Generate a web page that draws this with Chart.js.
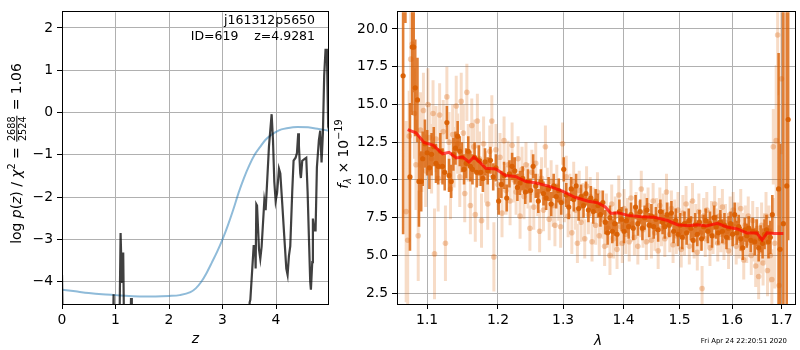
<!DOCTYPE html>
<html>
<head>
<meta charset="utf-8">
<script src="https://cdn.jsdelivr.net/npm/chart.js@4.4.1/dist/chart.umd.min.js"></script>
<style>
html,body{margin:0;padding:0;background:#fff}
#wrap{position:relative;width:800px;height:350px;overflow:hidden;background:#fff}
#pzChart{position:absolute;left:0;top:0}
#specChart{position:absolute;left:332px;top:0}
</style>
</head>
<body>
<div id="wrap">
<canvas id="pzChart" width="332" height="350"></canvas>
<canvas id="specChart" width="468" height="350"></canvas>
</div>
<script>

/* =====================================================
AXIS TICKS
===================================================== */

const zTicks=[0,1,2,3,4]
const logpTicks=[-4,-3,-2,-1,0,1,2]
const lamTicks=[1.1,1.2,1.3,1.4,1.5,1.6,1.7]
const fluxTicks=[2.5,5,7.5,10,12.5,15,17.5,20]


/* =====================================================
P(Z) CURVES
===================================================== */

// smooth prior-like curve
const zSmooth=[0,0.25,0.5,0.75,1,1.25,1.5,1.75,2,2.2,2.4,2.5,2.6,2.7,2.8,2.9,3,3.1,3.2,3.3,3.4,3.5,3.6,3.7,3.8,3.9,4,4.1,4.2,4.4,4.6,4.8,4.99]
const logpSmooth=[-4.19,-4.23,-4.27,-4.30,-4.32,-4.34,-4.35,-4.35,-4.34,-4.32,-4.25,-4.16,-4.01,-3.80,-3.55,-3.29,-3.0,-2.67,-2.3,-1.9,-1.55,-1.25,-1.0,-0.82,-0.65,-0.54,-0.46,-0.40,-0.37,-0.34,-0.35,-0.39,-0.43]

// chi2 based log p(z), low values fall off the bottom of the axes
const zFit=[0,0.02,0.95,0.964,0.975,1.07,1.095,1.119,1.144,1.163,1.27,1.29,1.305,3.49,3.507,3.52,3.582,3.607,3.619,3.632,3.645,3.682,3.706,3.731,3.781,3.806,3.831,3.868,3.918,3.943,3.968,3.993,4.02,4.055,4.08,4.117,4.154,4.192,4.216,4.241,4.266,4.303,4.328,4.366,4.391,4.415,4.428,4.453,4.465,4.49,4.53,4.565,4.59,4.614,4.639,4.652,4.677,4.689,4.714,4.739,4.764,4.801,4.826,4.851,4.876,4.9,4.925,4.95,4.975,4.99]
const logpFit=[-3.84,-5.5,-5.5,-4.3,-5.5,-5.5,-2.85,-4.03,-3.31,-5.5,-5.5,-4.39,-5.5,-5.5,-4.49,-4.43,-3.16,-3.16,-3.69,-2.17,-2.2,-3.24,-3.46,-3.17,-2.09,-2.31,-1.71,-0.8,-0.04,-0.65,-1.64,-2.09,-1.9,-1.33,-1.44,-2.17,-2.93,-3.69,-3.84,-3.39,-3.16,-1.87,-1.14,-1.07,-0.96,-0.49,-0.8,-1.44,-1.55,-1.14,-1.1,-1.07,-1.87,-2.93,-4.0,-4.19,-3.54,-2.51,-2.79,-2.79,-1.29,-0.65,-0.43,-1.18,-0.49,0.87,1.48,1.48,-0.34,-0.4]


/* =====================================================
SPECTRUM - COMBINED POINTS
===================================================== */

const lamBright=[
1.068,1.071,1.077,1.080,1.082,1.084,1.087,1.089,1.092,1.094,
1.097,1.100,1.103,1.106,1.109,1.112,1.115,1.118,1.121,1.124,
1.127,1.130,1.133,1.136,1.139,1.142,1.145,1.148,1.151,1.154,
1.157,1.160,1.163,1.166,1.169,1.172,1.175,1.178,1.181,1.185,
1.189,1.193,1.197,1.201,1.205,1.209,1.213,1.217,1.221,1.225,
1.229,1.233,1.237,1.241,1.245,1.249,1.253,1.257,1.261,1.265,
1.269,1.273,1.277,1.281,1.285,1.289,1.293,1.297,1.301,1.305,
1.309,1.313,1.317,1.321,1.325,1.329,1.333,1.337,1.341,1.345,
1.349,1.353,1.357,1.361,1.365,1.369,1.373,1.377,1.381,1.385,
1.389,1.393,1.397,1.401,1.405,1.409,1.413,1.417,1.421,1.425,
1.429,1.433,1.437,1.441,1.445,1.449,1.453,1.457,1.461,1.465,
1.469,1.473,1.477,1.481,1.485,1.489,1.493,1.497,1.501,1.505,
1.509,1.513,1.517,1.521,1.525,1.529,1.533,1.537,1.541,1.545,
1.549,1.553,1.557,1.561,1.565,1.569,1.573,1.577,1.581,1.585,
1.589,1.593,1.597,1.601,1.605,1.609,1.613,1.617,1.621,1.625,
1.629,1.633,1.637,1.641,1.645,1.649,1.653,1.657,1.661,1.665,
1.669,1.673,1.677,1.681,1.694,1.697,1.704,1.711,1.714]
const fluxBright=[
16.9,24.0,10.2,18.8,18.8,16.1,15.3,9.9,9.9,11.4,
12.4,11.8,10.8,11.7,12.2,11.1,10.9,11.9,10.9,10.5,
13.8,10.3,9.9,11.7,12.1,12.9,11.9,11.5,10.7,11.1,
11.9,10.9,10.7,11.5,10.5,11.3,10.5,10.1,11.2,10.6,
11.3,10.2,10.8,8.6,9.7,10.3,8.8,10.4,10.9,10.6,
9.5,9.8,10.1,9.2,9.9,9.3,10.9,9.6,8.6,9.9,
9.1,8.8,9.4,8.4,9.6,8.9,9.3,8.5,10.7,9.0,
8.2,9.4,8.7,9.6,8.1,8.9,8.3,9.1,8.0,8.8,
7.9,8.6,8.3,7.7,8.5,7.2,6.5,7.5,6.6,7.1,
6.4,7.9,7.4,6.6,7.3,6.9,7.7,6.8,8.2,7.1,
7.9,6.8,7.5,8.0,7.0,7.6,6.9,7.4,6.7,7.9,
7.2,6.9,7.7,7.0,7.8,6.6,7.3,6.4,7.0,6.2,
7.1,6.5,7.3,6.8,6.0,7.0,6.4,7.2,6.1,6.9,
7.3,6.6,7.1,6.3,7.5,6.9,6.5,7.2,6.6,7.0,
6.2,6.8,7.1,6.4,7.7,6.5,6.9,6.1,5.5,6.7,
6.3,6.8,6.0,6.6,5.9,6.5,5.5,6.1,5.8,6.4,
6.7,5.9,6.2,7.7,9.4,5.4,7.1,9.6,14.0]
const errBright=[
10.5,3.6,4.9,4.5,3.0,3.2,2.8,3.0,2.0,1.8,
1.6,1.5,1.4,1.4,1.3,1.3,1.2,1.2,1.2,1.2,
1.1,1.1,1.1,1.1,1.1,1.0,1.0,1.0,1.0,1.0,
1.0,1.0,1.0,1.0,1.0,1.0,0.9,0.9,0.9,0.9,
0.9,0.9,0.9,0.9,0.9,0.9,0.9,0.9,0.9,0.9,
0.9,0.8,0.8,0.8,0.8,0.8,0.8,0.8,0.8,0.8,
0.8,0.8,0.8,0.8,0.8,0.8,0.8,0.8,0.8,0.8,
0.8,0.8,0.8,0.8,0.8,0.8,0.8,0.8,0.8,0.8,
0.8,0.8,0.8,0.8,0.8,0.8,0.8,0.8,0.8,0.8,
0.8,0.8,0.8,0.8,0.8,0.8,0.8,0.8,0.8,0.8,
0.8,0.8,0.8,0.8,0.8,0.8,0.8,0.8,0.8,0.8,
0.8,0.8,0.8,0.8,0.8,0.8,0.8,0.8,0.8,0.8,
0.8,0.8,0.8,0.8,0.8,0.8,0.8,0.8,0.8,0.8,
0.8,0.8,0.8,0.8,0.8,0.8,0.8,0.8,0.8,0.8,
0.8,0.8,0.8,0.8,0.8,0.8,0.8,0.8,0.8,0.8,
0.8,0.8,0.8,0.9,0.9,0.9,0.9,0.9,1.0,1.0,
1.0,1.1,1.1,1.3,9.0,7.0,15.0,15.0,8.0]


/* =====================================================
SPECTRUM - SINGLE EXPOSURES
===================================================== */

const lamFaint=[
1.072,1.074,1.076,1.078,1.080,1.083,1.085,1.088,1.091,1.093,
1.095,1.098,1.101,1.103,1.106,1.108,1.110,1.112,1.115,1.117,
1.120,1.122,1.125,1.127,1.130,1.132,1.135,1.137,1.140,1.142,
1.145,1.147,1.150,1.152,1.155,1.157,1.160,1.162,1.165,1.167,
1.170,1.173,1.176,1.179,1.182,1.185,1.188,1.191,1.194,1.197,
1.200,1.203,1.206,1.209,1.212,1.215,1.218,1.221,1.224,1.227,
1.230,1.233,1.236,1.239,1.242,1.245,1.248,1.251,1.254,1.257,
1.260,1.263,1.266,1.269,1.272,1.275,1.278,1.281,1.284,1.287,
1.290,1.293,1.296,1.299,1.302,1.305,1.308,1.311,1.314,1.317,
1.320,1.323,1.326,1.329,1.332,1.335,1.338,1.341,1.344,1.347,
1.350,1.353,1.356,1.359,1.362,1.365,1.368,1.371,1.374,1.377,
1.380,1.383,1.386,1.389,1.392,1.395,1.398,1.401,1.404,1.407,
1.410,1.413,1.416,1.419,1.422,1.425,1.428,1.431,1.434,1.437,
1.440,1.443,1.446,1.449,1.452,1.455,1.458,1.461,1.464,1.467,
1.470,1.473,1.476,1.479,1.482,1.485,1.488,1.491,1.494,1.497,
1.500,1.503,1.506,1.509,1.512,1.515,1.518,1.521,1.524,1.527,
1.530,1.533,1.536,1.539,1.542,1.545,1.548,1.551,1.554,1.557,
1.560,1.563,1.566,1.569,1.572,1.575,1.578,1.581,1.584,1.587,
1.590,1.593,1.596,1.599,1.602,1.605,1.608,1.611,1.614,1.617,
1.620,1.623,1.626,1.629,1.632,1.635,1.638,1.641,1.644,1.647,
1.650,1.653,1.656,1.659,1.662,1.665,1.668,1.671,1.674,1.677,
1.680,1.683,1.686,1.689,1.692,1.695,1.700]
const fluxFaint=[
7.9,6.0,12.9,18.0,19.0,14.4,11.0,6.3,13.3,11.7,
14.6,10.6,15.0,12.8,11.4,14.4,5.1,12.7,10.1,14.3,
11.9,13.2,5.8,15.5,12.5,9.4,13.0,11.5,14.9,12.4,
10.2,15.2,13.1,9.1,15.8,11.8,8.3,13.6,12.2,7.7,
13.9,11.4,7.3,12.4,10.2,8.4,11.9,13.9,4.9,12.0,
9.7,11.5,7.8,12.6,9.3,11.0,8.6,12.3,10.0,9.2,
11.4,7.6,10.7,8.9,11.0,9.6,6.8,10.5,8.2,11.1,
9.0,6.6,10.1,8.0,12.2,9.4,7.4,9.9,8.3,7.0,
9.6,8.7,6.9,12.4,8.6,10.2,7.6,9.0,6.5,9.9,
8.0,5.8,9.3,7.2,8.5,6.1,9.6,7.7,8.9,5.9,
8.2,7.0,9.2,6.3,8.0,7.4,5.6,7.8,6.8,5.0,
8.4,6.1,7.6,5.4,9.0,6.9,5.8,8.1,6.4,7.5,
5.9,8.8,7.1,6.2,8.0,5.6,7.4,9.4,6.7,7.9,
5.9,8.3,7.0,6.0,8.6,6.5,7.6,5.3,8.3,6.8,
7.9,6.1,9.2,7.3,6.4,8.1,5.7,7.5,6.3,8.0,
6.6,5.4,7.8,6.2,8.4,6.9,5.6,7.4,8.6,6.0,
7.2,5.2,7.9,6.5,2.8,7.6,6.1,8.0,6.8,5.5,
7.4,6.3,8.4,6.9,5.8,7.6,6.4,8.2,5.9,7.2,
6.6,5.3,7.7,6.2,8.0,6.9,5.6,7.3,6.0,8.1,
6.5,4.7,7.0,5.8,7.6,6.2,5.0,7.3,6.0,4.3,
6.8,3.6,5.3,7.0,4.5,6.2,7.6,4.0,6.6,5.0,
3.4,12.2,5.8,12.6,19.6,3.0,16.7]
const errFaint=[
6.0,4.5,3.0,3.5,4.0,3.0,3.0,3.0,2.5,2.5,
2.5,2.4,2.4,2.3,2.3,2.2,3.0,2.2,2.2,2.1,
2.1,2.1,2.5,2.0,2.0,2.0,2.0,2.0,2.0,2.0,
2.0,1.9,1.9,1.9,1.9,1.9,1.9,1.8,1.8,1.8,
1.8,1.8,1.8,1.8,1.7,1.7,1.7,1.7,2.3,1.7,
1.7,1.6,1.6,1.6,1.6,1.6,1.6,1.5,1.5,1.5,
1.5,1.5,1.5,1.5,1.5,1.5,1.5,1.5,1.5,1.4,
1.4,1.4,1.4,1.4,1.4,1.4,1.4,1.4,1.4,1.4,
1.4,1.4,1.4,1.4,1.4,1.4,1.4,1.4,1.4,1.3,
1.3,1.3,1.3,1.3,1.3,1.3,1.3,1.3,1.3,1.3,
1.3,1.3,1.3,1.3,1.3,1.3,1.3,1.3,1.3,1.3,
1.3,1.3,1.3,1.3,1.3,1.3,1.3,1.3,1.3,1.3,
1.3,1.2,1.2,1.2,1.2,1.2,1.2,1.2,1.2,1.2,
1.2,1.2,1.2,1.2,1.2,1.2,1.2,1.2,1.2,1.2,
1.2,1.2,1.2,1.2,1.2,1.2,1.2,1.2,1.2,1.2,
1.2,1.2,1.2,1.2,1.2,1.2,1.2,1.2,1.2,1.2,
1.2,1.2,1.2,1.2,1.5,1.2,1.2,1.2,1.2,1.2,
1.2,1.2,1.2,1.2,1.2,1.2,1.2,1.2,1.2,1.2,
1.2,1.2,1.2,1.2,1.2,1.2,1.2,1.2,1.2,1.3,
1.3,1.3,1.3,1.3,1.3,1.3,1.3,1.3,1.4,1.4,
1.4,1.5,1.5,1.5,1.5,1.6,1.6,1.7,1.7,1.8,
2.0,2.5,3.0,5.0,4.0,4.0,5.0]


/* =====================================================
SPECTRUM - MODEL
===================================================== */

const lamModel=[1.074,1.085,1.096,1.108,1.121,1.130,1.140,1.149,1.158,1.165,1.173,1.182,1.197,1.211,1.226,1.241,1.256,1.277,1.298,1.319,1.341,1.357,1.369,1.379,1.391,1.408,1.431,1.454,1.478,1.496,1.515,1.533,1.550,1.571,1.590,1.610,1.629,1.649,1.660,1.670,1.686,1.704]
const fluxModel=[13.33,13.12,12.47,12.31,11.73,11.83,11.45,11.51,11.19,11.51,11.19,10.77,10.72,10.29,10.23,9.91,9.81,9.59,9.27,8.85,8.59,8.48,8.21,7.78,7.82,7.65,7.56,7.52,7.31,7.03,6.96,7.03,6.95,7.13,6.88,6.75,6.49,6.49,6.02,6.49,6.45,6.45]


/* =====================================================
HELPERS
===================================================== */

const FONT="'DejaVu Sans', sans-serif"
const ORANGE="217,95,2"

Chart.defaults.font.family=FONT
Chart.defaults.color="#000"

function fontOf(px,style){
return (style||"")+" "+px+"px "+FONT
}

function points(xs,ys){
return xs.map((x,i)=>({x:x,y:ys[i]}))
}

// vertical error bars as separate segments, broken by null points
function errorSegments(xs,ys,es){
const pts=[]
xs.forEach((x,i)=>{
pts.push({x:x,y:ys[i]-es[i]})
pts.push({x:x,y:ys[i]+es[i]})
pts.push({x:x,y:null})
})
return pts
}

function gridOpts(){
return {color:"#b0b0b0",lineWidth:1,tickColor:"#000",tickLength:5,drawTicks:true}
}

function tickOpts(cb,pad){
return {color:"#000",font:{size:13.9},padding:pad,autoSkip:false,maxRotation:0,callback:cb}
}

function minus(v){
return String(v).replace("-","\u2212")
}

// text runs along a rotated baseline, with a simple stacked fraction
function drawRuns(ctx,runs,cx,cy,size){
ctx.save()
ctx.translate(cx,cy)
ctx.rotate(-Math.PI/2)
ctx.textBaseline="alphabetic"
ctx.fillStyle="#000"
let total=0
runs.forEach(r=>{
if(r.frac){
ctx.font=fontOf(size*0.7)
r.w=Math.max(ctx.measureText(r.frac[0]).width,ctx.measureText(r.frac[1]).width)+size*0.25
}else{
ctx.font=fontOf(size*(r.scale||1),r.style)
r.w=ctx.measureText(r.text).width
}
total+=r.w
})
let x=-total/2
runs.forEach(r=>{
if(r.frac){
const fs=size*0.7
const axis=-size*0.3
const mid=x+r.w/2
ctx.font=fontOf(fs)
ctx.textAlign="center"
ctx.fillText(r.frac[0],mid,axis-size*0.12)
ctx.fillText(r.frac[1],mid,axis+size*0.12+fs*0.73)
ctx.fillRect(x+size*0.08,axis-0.5,r.w-size*0.16,1)
ctx.textAlign="left"
}else{
ctx.font=fontOf(size*(r.scale||1),r.style)
ctx.textAlign="left"
ctx.fillText(r.text,x,(r.dy||0)*size)
}
x+=r.w
})
ctx.restore()
}

function drawFrame(chart){
const a=chart.chartArea
const ctx=chart.ctx
ctx.save()
ctx.strokeStyle="#000"
ctx.lineWidth=1
ctx.strokeRect(Math.round(a.left)+0.5,Math.round(a.top)-0.5,Math.round(a.right-a.left)-1,Math.round(a.bottom-a.top)+1)
ctx.restore()
}


/* =====================================================
LEFT PANEL - LOG P(Z)
===================================================== */

const pzLabels={
id:"pzLabels",
afterDraw(chart){
const ctx=chart.ctx
drawFrame(chart)
ctx.save()
ctx.fillStyle="#000"
ctx.textBaseline="alphabetic"
ctx.textAlign="right"
ctx.font=fontOf(12.5)
ctx.fillText("j161312p5650",315,24)
ctx.fillText("ID=619    z=4.9281",315,39.5)
ctx.textAlign="center"
ctx.font=fontOf(13.9,"italic")
ctx.fillText("z",195.5,343)
ctx.restore()
drawRuns(ctx,[
{text:"log "},{text:"p",style:"italic"},{text:"("},{text:"z",style:"italic"},{text:") / "},
{text:"\u03c7",style:"italic"},{text:"2",scale:0.7,dy:-0.45},{text:" = "},
{frac:["2688","2524"]},{text:" = 1.06"}
],21,153.5,13.9)
}
}

new Chart(document.getElementById("pzChart"),{
type:"scatter",
data:{
datasets:[
{
data:points(zFit,logpFit),
showLine:true,
borderColor:"rgba(0,0,0,0.75)",
borderWidth:2.2,
pointRadius:0,
tension:0,
clip:0,
order:1
},
{
data:points(zSmooth,logpSmooth),
showLine:true,
borderColor:"rgba(31,119,180,0.5)",
borderWidth:2,
pointRadius:0,
cubicInterpolationMode:"monotone",
clip:0,
order:2
}
]
},
options:{
responsive:false,
animation:false,
devicePixelRatio:1,
events:[],
layout:{padding:{top:1,right:3,left:0,bottom:0}},
plugins:{legend:{display:false},tooltip:{enabled:false}},
scales:{
x:{
type:"linear",min:0,max:4.99,bounds:"data",
afterBuildTicks:s=>{s.ticks=zTicks.map(v=>({value:v}))},
afterFit:s=>{s.height=46},
grid:gridOpts(),
border:{display:false},
ticks:tickOpts(v=>minus(v),3)
},
y:{
type:"linear",min:-4.53,max:2.37,bounds:"data",
afterBuildTicks:s=>{s.ticks=logpTicks.map(v=>({value:v}))},
afterFit:s=>{s.width=62},
grid:gridOpts(),
border:{display:false},
ticks:tickOpts(v=>minus(v),4)
}
}
},
plugins:[pzLabels]
})


/* =====================================================
RIGHT PANEL - SPECTRUM
===================================================== */

const specLabels={
id:"specLabels",
afterDraw(chart){
const ctx=chart.ctx
drawFrame(chart)
ctx.save()
ctx.fillStyle="#000"
ctx.textBaseline="alphabetic"
ctx.textAlign="center"
ctx.font=fontOf(13.9,"italic")
ctx.fillText("\u03bb",266,345)
ctx.textAlign="right"
ctx.font=fontOf(6.9)
ctx.fillText("Fri Apr 24 22:20:51 2020",455,343)
ctx.restore()
drawRuns(ctx,[
{text:"f",style:"italic"},{text:"\u03bb",style:"italic",scale:0.7,dy:0.2},
{text:" \u00d7 10"},{text:"\u221219",scale:0.7,dy:-0.45}
],16,154,13.9)
}
}

new Chart(document.getElementById("specChart"),{
type:"scatter",
data:{
datasets:[
{
data:points(lamModel,fluxModel),
showLine:true,
borderColor:"rgba(255,0,0,0.7)",
borderWidth:3,
pointRadius:0,
tension:0,
clip:0,
order:1
},
{
data:points(lamBright,fluxBright),
backgroundColor:"rgba("+ORANGE+",0.95)",
borderWidth:0,
pointRadius:2.6,
clip:0,
order:2
},
{
data:errorSegments(lamBright,fluxBright,errBright),
showLine:true,
spanGaps:false,
borderColor:"rgba("+ORANGE+",0.8)",
borderWidth:2.6,
pointRadius:0,
clip:0,
order:3
},
{
data:points(lamFaint,fluxFaint),
backgroundColor:"rgba("+ORANGE+",0.3)",
borderWidth:0,
pointRadius:2.8,
clip:0,
order:4
},
{
data:errorSegments(lamFaint,fluxFaint,errFaint),
showLine:true,
spanGaps:false,
borderColor:"rgba("+ORANGE+",0.22)",
borderWidth:3,
pointRadius:0,
clip:0,
order:5
}
]
},
options:{
responsive:false,
animation:false,
devicePixelRatio:1,
events:[],
layout:{padding:{top:1,right:1,left:0,bottom:0}},
plugins:{legend:{display:false},tooltip:{enabled:false}},
scales:{
x:{
type:"logarithmic",min:1.06,max:1.7306,bounds:"data",
afterBuildTicks:s=>{s.ticks=lamTicks.map(v=>({value:v}))},
afterFit:s=>{s.height=46},
grid:gridOpts(),
border:{display:false},
ticks:tickOpts(v=>Number(v).toFixed(1),3)
},
y:{
type:"linear",min:1.78,max:21.1,bounds:"data",
afterBuildTicks:s=>{s.ticks=fluxTicks.map(v=>({value:v}))},
afterFit:s=>{s.width=65},
grid:gridOpts(),
border:{display:false},
ticks:tickOpts(v=>Number(v).toFixed(1),4)
}
}
},
plugins:[specLabels]
})

</script>
</body>
</html>
